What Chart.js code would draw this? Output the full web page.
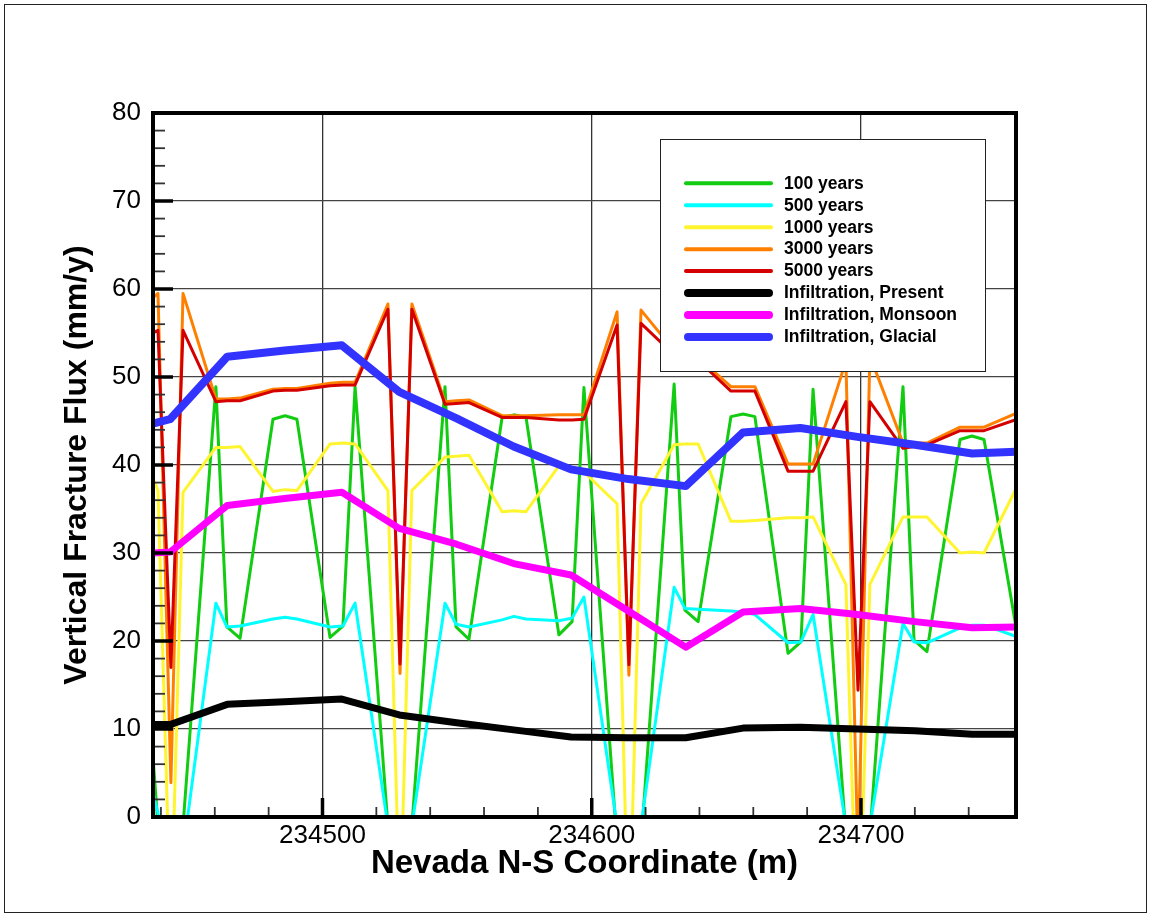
<!DOCTYPE html>
<html>
<head>
<meta charset="utf-8">
<script src="https://cdn.jsdelivr.net/npm/chart.js@4/dist/chart.umd.min.js"></script>
<style>
  html, body { margin: 0; padding: 0; background: #fff; }
  #wrap { position: relative; width: 1151px; height: 917px; }
  canvas { display: block; }
</style>
</head>
<body>
<div id="wrap"><canvas id="chart" width="1151" height="917"></canvas></div>
<script>
// ---- Data -----------------------------------------------------------------
// Fracture-flux nodes along the section (Nevada N-S coordinate, m)
const xNodes = [
  234437.0, 234438.9, 234443.7, 234448.2, 234460.4, 234464.5, 234469.4, 234481.6,
  234486.1, 234490.5, 234502.8, 234507.6, 234512.1, 234524.3, 234528.8, 234533.2,
  234545.5, 234549.6, 234554.4, 234566.7, 234571.1, 234575.6, 234587.8, 234592.7,
  234597.1, 234609.4, 234613.8, 234618.3, 234630.6, 234634.6, 234639.5, 234651.7,
  234656.2, 234660.6, 234672.9, 234677.7, 234682.2, 234694.4, 234698.9, 234703.3,
  234715.6, 234719.7, 234724.5, 234736.8, 234741.2, 234745.7, 234757.9
];

// Vertical fracture flux (mm/y) at each node
const flux100yr = [
  7.0, -1.0, -10.0, -1.0, 48.9, 21.6, 20.3, 45.2, 45.6, 45.2, 20.4, 21.7, 48.9, -1.0, -10.0, -1.0,
  48.9, 21.6, 20.2, 45.4, 45.7, 45.4, 20.7, 22.2, 48.8, -3.0, -12.0, -3.0, 49.2, 23.5, 22.2, 45.5,
  45.8, 45.5, 18.6, 19.9, 48.6, -2.0, -12.0, -2.0, 48.9, 20.1, 18.8, 42.9, 43.3, 42.9, 21.0
];
const flux500yr = [
  2.7, 0.5, -10.0, -4.0, 24.3, 21.6, 21.7, 22.5, 22.7, 22.5, 21.6, 21.7, 24.3, -1.0, -10.0, -1.0,
  24.3, 21.9, 21.6, 22.4, 22.8, 22.5, 22.3, 22.6, 25.0, -1.0, -10.0, -1.0, 26.1, 23.7, 23.6, 23.4,
  23.3, 23.0, 19.8, 19.9, 23.0, -1.0, -10.0, -1.0, 22.0, 19.9, 19.8, 21.5, 21.8, 21.8, 20.5
];
const flux1000yr = [
  38.5, 37.1, -13.0, 36.9, 42.0, 42.0, 42.1, 37.0, 37.2, 37.1, 42.4, 42.5, 42.4, 37.1, -12.0, 37.1,
  40.9, 41.0, 41.1, 34.7, 34.8, 34.7, 39.9, 39.6, 39.2, 35.6, -15.0, 35.6, 42.3, 42.4, 42.4, 33.6,
  33.6, 33.7, 34.0, 34.0, 34.1, 26.4, -18.0, 26.4, 34.1, 34.1, 34.1, 30.0, 30.1, 30.0, 37.5
];
const flux3000yr = [
  59.0, 59.5, 3.9, 59.5, 47.5, 47.5, 47.6, 48.6, 48.7, 48.7, 49.3, 49.4, 49.4, 58.3, 16.3, 58.3,
  47.2, 47.3, 47.4, 45.6, 45.6, 45.6, 45.7, 45.7, 45.7, 57.4, 16.1, 57.6, 53.0, 52.6, 52.2, 48.9,
  48.9, 48.9, 40.1, 40.1, 40.1, 51.8, -5.0, 52.4, 42.5, 42.5, 42.5, 44.3, 44.3, 44.3, 45.9
];
const flux5000yr = [
  55.0, 55.3, 17.0, 55.3, 47.2, 47.3, 47.3, 48.4, 48.5, 48.5, 49.0, 49.1, 49.1, 57.7, 17.4, 57.7,
  46.9, 47.0, 47.1, 45.4, 45.4, 45.4, 45.1, 45.1, 45.2, 55.9, 17.3, 56.1, 52.5, 52.2, 51.9, 48.4,
  48.4, 48.4, 39.3, 39.3, 39.3, 47.2, 14.4, 47.2, 41.9, 42.1, 42.3, 43.9, 43.9, 43.9, 45.2
];

// Infiltration nodes (m) and infiltration rates (mm/y) for three climates
const xInfil = [
  234437.0, 234443.4, 234464.6, 234485.9, 234507.2, 234528.5, 234549.8, 234571.0, 234592.3,
  234613.6, 234634.9, 234656.2, 234677.5, 234698.7, 234720.0, 234741.3, 234757.6
];
const infilPresent = [10.5, 10.5, 12.8, 13.1, 13.4, 11.6, 10.7, 9.9, 9.1, 9.0, 9.0, 10.1, 10.2, 10.0, 9.8, 9.4, 9.4];
const infilMonsoon = [30.0, 30.1, 35.4, 36.2, 36.9, 32.8, 31.0, 28.8, 27.5, 23.4, 19.3, 23.3, 23.7, 23.0, 22.2, 21.5, 21.6];
const infilGlacial = [44.7, 45.2, 52.3, 53.0, 53.6, 48.3, 45.3, 42.1, 39.5, 38.4, 37.6, 43.7, 44.2, 43.2, 42.3, 41.3, 41.5];

// Axis ranges and tick spacing
const xRange = [234437.05, 234757.57];
const yRange = [0, 80];
const xMajorStep = 100, xMinorStep = 20;
const yMajorStep = 10, yMinorStep = 2;

const seriesLabels = [
  '100 years', '500 years', '1000 years', '3000 years', '5000 years',
  'Infiltration, Present', 'Infiltration, Monsoon', 'Infiltration, Glacial'
];

// ---- Chart ----------------------------------------------------------------
const FONT = '"Liberation Sans", Arial, Helvetica, sans-serif';

function pts(xs, ys) { return xs.map((x, i) => ({ x: x, y: ys[i] })); }

function line(label, xs, ys, color, width, order) {
  return {
    label: label,
    data: pts(xs, ys),
    borderColor: color,
    backgroundColor: color,
    borderWidth: width,
    pointRadius: 0,
    pointHoverRadius: 0,
    tension: 0,
    fill: false,
    clip: 0,
    borderJoinStyle: 'round',
    borderCapStyle: 'round',
    order: order
  };
}

const datasets = [
  line(seriesLabels[0], xNodes, flux100yr,  '#12CC12', 3, 7),
  line(seriesLabels[1], xNodes, flux500yr,  '#00FFFF', 3, 6),
  line(seriesLabels[2], xNodes, flux1000yr, '#FFF52E', 3, 5),
  line(seriesLabels[3], xNodes, flux3000yr, '#FF8000', 3, 4),
  line(seriesLabels[4], xNodes, flux5000yr, '#D40000', 3, 3),
  line(seriesLabels[5], xInfil, infilPresent, '#000000', 7, 2),
  line(seriesLabels[6], xInfil, infilMonsoon, '#FF00FF', 7, 1),
  line(seriesLabels[7], xInfil, infilGlacial, '#3333FF', 8, 0)
];

// White page with a thin outer frame
const pageFrame = {
  id: 'pageFrame',
  beforeDraw(chart) {
    const ctx = chart.ctx;
    ctx.save();
    ctx.fillStyle = '#fff';
    ctx.fillRect(0, 0, chart.width, chart.height);
    ctx.strokeStyle = '#222';
    ctx.lineWidth = 1;
    ctx.strokeRect(4.5, 4.5, chart.width - 9, chart.height - 9);
    ctx.restore();
  }
};

// Heavy plot border with inward major/minor tick marks on the left and bottom
const axisFrame = {
  id: 'axisFrame',
  afterDatasetsDraw(chart) {
    const ctx = chart.ctx, a = chart.chartArea;
    const xs = chart.scales.x, ys = chart.scales.y;
    ctx.save();
    ctx.lineCap = 'butt';
    ys.ticks.forEach(t => {
      const p = ys.getPixelForValue(t.value);
      const major = Math.abs(t.value % yMajorStep) < 1e-6;
      ctx.strokeStyle = major ? '#000' : '#333';
      ctx.lineWidth = major ? 3.5 : 1.8;
      ctx.beginPath();
      ctx.moveTo(a.left, p);
      ctx.lineTo(a.left + (major ? 20 : 12), p);
      ctx.stroke();
    });
    xs.ticks.forEach(t => {
      const p = xs.getPixelForValue(t.value);
      const major = Math.abs(t.value % xMajorStep) < 1e-6;
      ctx.strokeStyle = major ? '#000' : '#333';
      ctx.lineWidth = major ? 3.5 : 1.8;
      ctx.beginPath();
      ctx.moveTo(p, a.bottom);
      ctx.lineTo(p, a.bottom - (major ? 19 : 10));
      ctx.stroke();
    });
    ctx.strokeStyle = '#000';
    ctx.lineWidth = 4;
    ctx.strokeRect(a.left, a.top, a.right - a.left, a.bottom - a.top);
    ctx.restore();
  }
};

// Boxed legend inside the plot, drawn over the curves
const boxLegend = {
  id: 'boxLegend',
  afterDatasetsDraw(chart) {
    const ctx = chart.ctx;
    const box = { x: 660.5, y: 139.5, w: 325, h: 232 };
    const rowTop = 183.3, rowGap = 21.95;
    const lineX0 = 686, lineX1 = 771, textX = 784;
    ctx.save();
    ctx.fillStyle = '#fff';
    ctx.fillRect(box.x, box.y, box.w, box.h);
    ctx.strokeStyle = '#222';
    ctx.lineWidth = 1;
    ctx.strokeRect(box.x, box.y, box.w, box.h);
    ctx.font = 'bold 17.5px ' + FONT;
    ctx.textBaseline = 'middle';
    ctx.textAlign = 'left';
    chart.data.datasets.forEach((ds, i) => {
      const y = rowTop + i * rowGap;
      const thick = ds.borderWidth > 4;
      ctx.strokeStyle = ds.borderColor;
      ctx.lineWidth = thick ? 8 : 4;
      ctx.lineCap = 'round';
      ctx.beginPath();
      ctx.moveTo(lineX0 + (thick ? 2 : 0), y);
      ctx.lineTo(lineX1 - (thick ? 2 : 0), y);
      ctx.stroke();
      ctx.fillStyle = '#000';
      ctx.fillText(ds.label, textX, y + 0.5);
    });
    ctx.restore();
  }
};

new Chart(document.getElementById('chart'), {
  type: 'line',
  data: { datasets: datasets },
  options: {
    responsive: false,
    animation: false,
    devicePixelRatio: 1,
    layout: { padding: { left: 54, top: 113, right: 135, bottom: 33 } },
    plugins: {
      legend: { display: false },
      tooltip: { enabled: false }
    },
    events: [],
    scales: {
      x: {
        type: 'linear',
        min: xRange[0],
        max: xRange[1],
        afterFit(s) { s.height = 67; },
        border: { display: false },
        grid: {
          drawTicks: false,
          color: c => (Math.abs(c.tick.value % xMajorStep) < 1e-6 ? '#333' : 'rgba(0,0,0,0)'),
          lineWidth: 1.3
        },
        ticks: {
          stepSize: xMinorStep,
          includeBounds: false,
          autoSkip: false,
          maxRotation: 0,
          padding: 3,
          color: '#000',
          font: { family: FONT, size: 26 },
          callback: v => (Math.abs(v % xMajorStep) < 1e-6 ? String(v) : '')
        },
        title: {
          display: true,
          text: 'Nevada N-S Coordinate (m)',
          color: '#000',
          font: { family: FONT, size: 33, weight: 'bold' },
          padding: { top: 0, bottom: 0 }
        }
      },
      y: {
        type: 'linear',
        min: yRange[0],
        max: yRange[1],
        afterFit(s) { s.width = 99; },
        border: { display: false },
        grid: {
          drawTicks: false,
          color: c => (Math.abs(c.tick.value % yMajorStep) < 1e-6 ? '#444' : 'rgba(0,0,0,0)'),
          lineWidth: 1.3
        },
        ticks: {
          stepSize: yMinorStep,
          autoSkip: false,
          padding: 12,
          color: '#000',
          font: { family: FONT, size: 26 },
          callback: v => (Math.abs(v % yMajorStep) < 1e-6 ? String(v) : '')
        },
        title: {
          display: true,
          text: 'Vertical Fracture Flux (mm/y)',
          color: '#000',
          font: { family: FONT, size: 32, weight: 'bold' },
          padding: { top: 4, bottom: 0 }
        }
      }
    }
  },
  plugins: [pageFrame, axisFrame, boxLegend]
});
</script>
</body>
</html>
